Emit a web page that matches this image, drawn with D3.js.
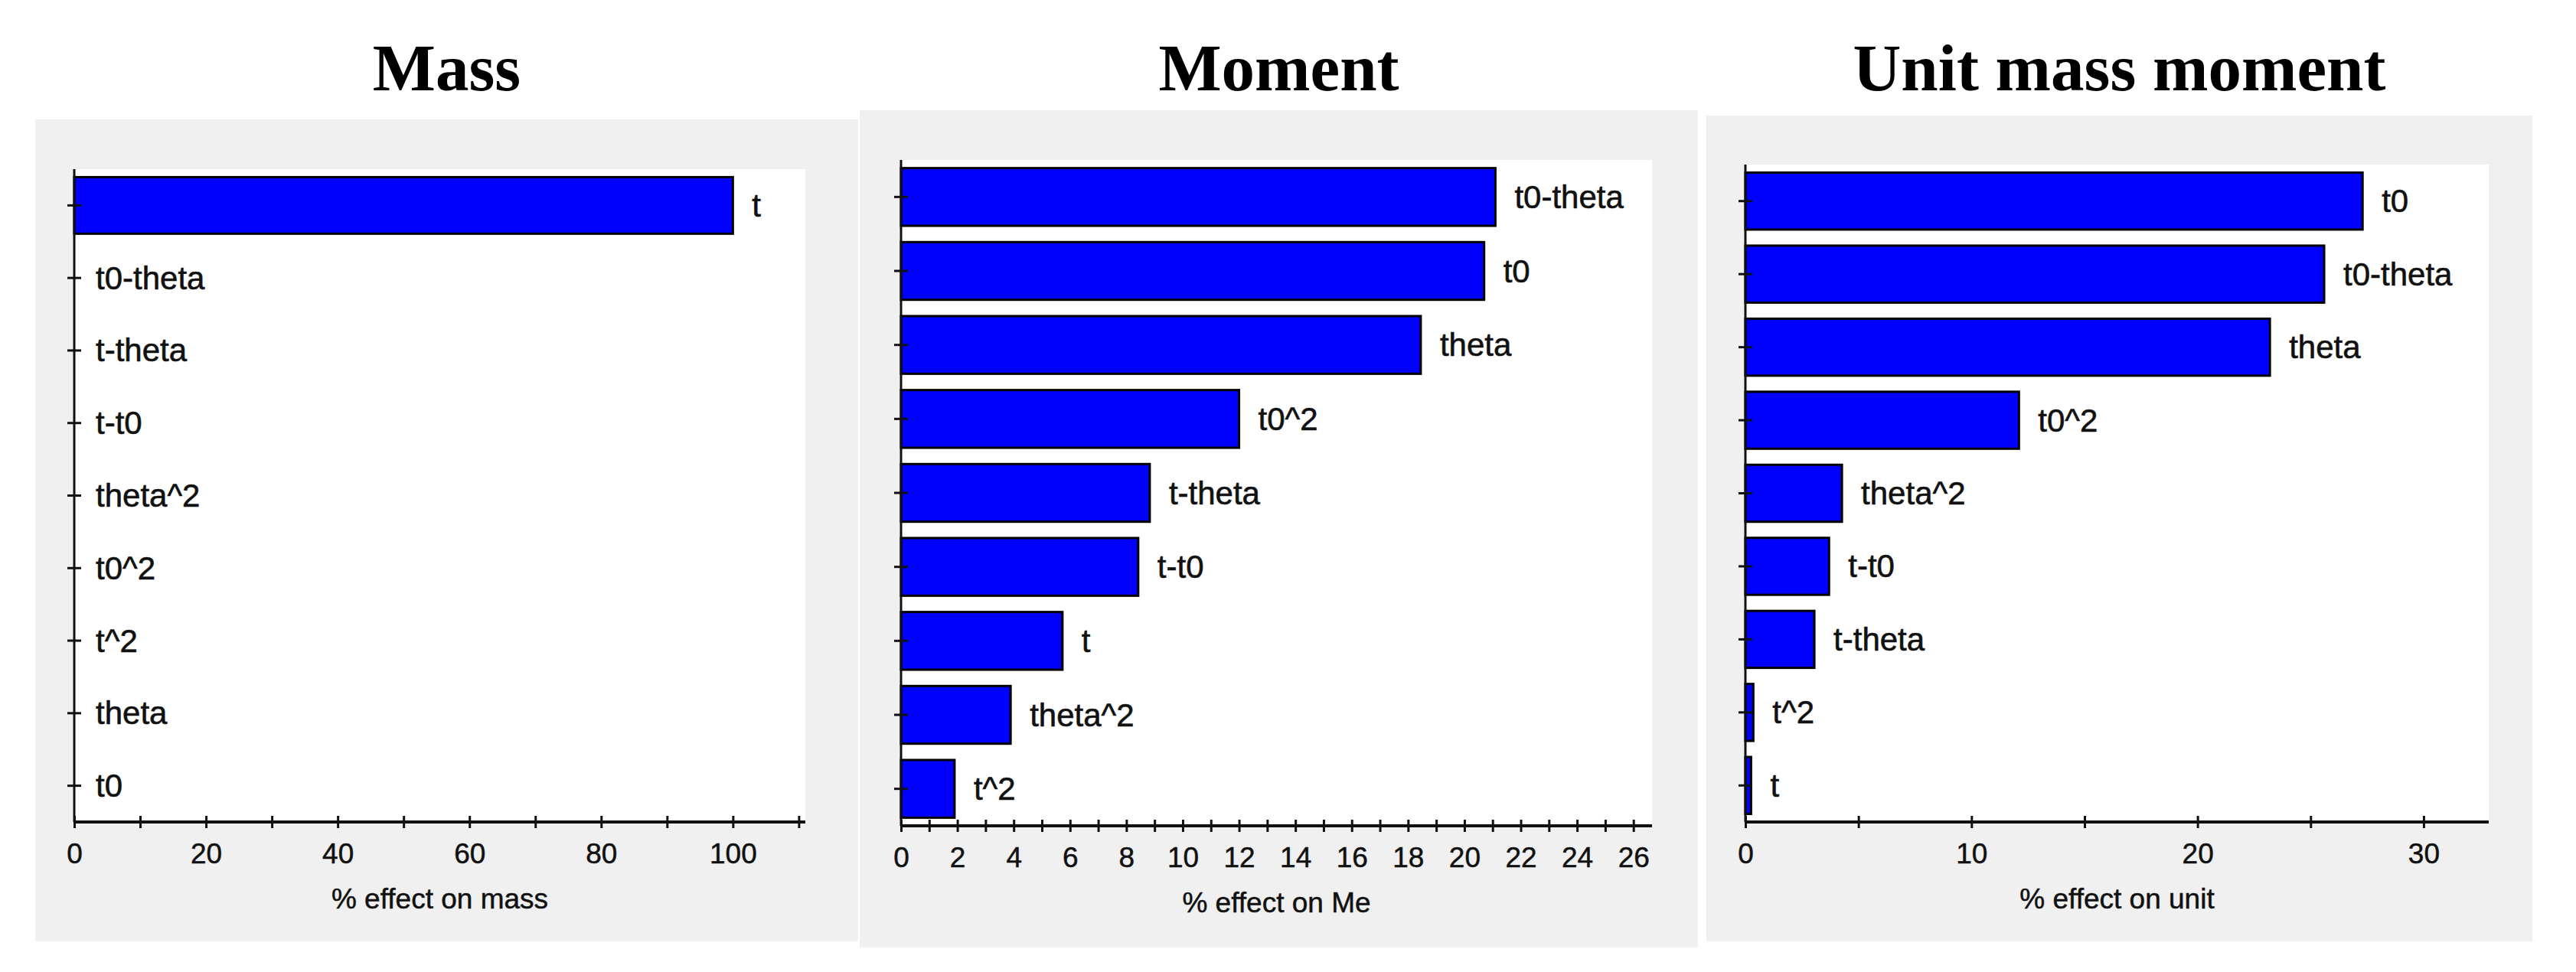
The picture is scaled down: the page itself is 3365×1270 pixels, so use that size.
<!DOCTYPE html>
<html lang="en">
  <head>
    <meta charset="UTF-8" />
    <title>Sensitivity bars - mass, moment, unit mass moment</title>
    <style>
      body {
        margin: 0;
        background: #fff;
      }
      svg {
        display: block;
      }
    </style>
  </head>
  <body>
    <svg id="chart"></svg>
    <script src="https://cdn.jsdelivr.net/npm/d3@7"></script>
    <script>
      // values, categories listed top to bottom
      const massCategories = ["t", "t0-theta", "t-theta", "t-t0", "theta^2", "t0^2", "t^2", "theta", "t0"];
      const massValues = [100, 0, 0, 0, 0, 0, 0, 0, 0];
      const massTicks = [0, 10, 20, 30, 40, 50, 60, 70, 80, 90, 100, 110];
      const massTickLabels = [0, 20, 40, 60, 80, 100];

      const momentCategories = ["t0-theta", "t0", "theta", "t0^2", "t-theta", "t-t0", "t", "theta^2", "t^2"];
      const momentValues = [21.1, 20.7, 18.45, 12.0, 8.83, 8.42, 5.73, 3.89, 1.9];
      const momentTicks = [0, 1, 2, 3, 4, 5, 6, 7, 8, 9, 10, 11, 12, 13, 14, 15, 16, 17, 18, 19, 20, 21, 22, 23, 24, 25, 26];
      const momentTickLabels = [0, 2, 4, 6, 8, 10, 12, 14, 16, 18, 20, 22, 24, 26];

      const unitCategories = ["t0", "t0-theta", "theta", "t0^2", "theta^2", "t-t0", "t-theta", "t^2", "t"];
      const unitValues = [27.3, 25.6, 23.2, 12.1, 4.27, 3.7, 3.05, 0.35, 0.25];
      const unitTicks = [0, 5, 10, 15, 20, 25, 30];
      const unitTickLabels = [0, 10, 20, 30];

      const titles = ["Mass", "Moment", "Unit mass moment"];
      const axisTitles = ["% effect on mass", "% effect on Me", "% effect on unit"];

      const width = 3365;
      const height = 1270;
      const sans = "'Liberation Sans', Arial, sans-serif";

      const svg = d3.select("#chart").attr("width", width).attr("height", height);

      const panels = [
        {
          cats: massCategories, vals: massValues, ticks: massTicks, labels: massTickLabels, xMax: 111,
          box: { x0: 46, y0: 156, x1: 1121, y1: 1230 },
          plot: { x0: 97, y0: 221, x1: 1052, y1: 1074 },
          titleY: 1187,
        },
        {
          cats: momentCategories, vals: momentValues, ticks: momentTicks, labels: momentTickLabels, xMax: 26.66,
          box: { x0: 1123, y0: 144, x1: 2218, y1: 1238 },
          plot: { x0: 1177, y0: 209, x1: 2158, y1: 1079 },
          titleY: 1192,
        },
        {
          cats: unitCategories, vals: unitValues, ticks: unitTicks, labels: unitTickLabels, xMax: 32.88,
          box: { x0: 2229, y0: 151, x1: 3308, y1: 1230 },
          plot: { x0: 2280, y0: 215, x1: 3251, y1: 1074 },
          titleY: 1187,
        },
      ];

      panels.forEach((p, i) => {
        const g = svg.append("g");
        const { box, plot } = p;

        g.append("rect")
          .attr("x", box.x0)
          .attr("y", box.y0)
          .attr("width", box.x1 - box.x0)
          .attr("height", box.y1 - box.y0)
          .attr("fill", "#f0f0f0");

        g.append("rect")
          .attr("x", plot.x0)
          .attr("y", plot.y0)
          .attr("width", plot.x1 - plot.x0)
          .attr("height", plot.y1 - plot.y0)
          .attr("fill", "#fff");

        g.append("text")
          .attr("x", (box.x0 + box.x1) / 2)
          .attr("y", 118)
          .attr("text-anchor", "middle")
          .attr("font-family", "'Liberation Serif', 'Times New Roman', serif")
          .attr("font-weight", "bold")
          .attr("font-size", 87)
          .text(titles[i]);

        const x = d3.scaleLinear().domain([0, p.xMax]).range([plot.x0, plot.x1]);
        const y = d3.scaleBand().domain(p.cats).range([plot.y0, plot.y1]).paddingInner(0.22).paddingOuter(0.11);
        const rows = p.cats.map((c, k) => ({ cat: c, val: p.vals[k] }));

        g.selectAll(".bar")
          .data(rows.filter((d) => d.val > 0))
          .enter()
          .append("rect")
          .attr("class", "bar")
          .attr("x", x(0))
          .attr("y", (d) => y(d.cat))
          .attr("width", (d) => x(d.val) - x(0))
          .attr("height", y.bandwidth())
          .attr("fill", "#0000ff")
          .attr("stroke", "#000")
          .attr("stroke-width", 3);

        g.selectAll(".lbl")
          .data(rows)
          .enter()
          .append("text")
          .attr("class", "lbl")
          .attr("x", (d) => x(d.val) + (d.val > 0 ? 25 : 28))
          .attr("y", (d) => y(d.cat) + y.bandwidth() / 2)
          .attr("dominant-baseline", "central")
          .attr("font-family", sans)
          .attr("font-size", 42)
          .attr("fill", "#111")
          .attr("stroke", "#111")
          .attr("stroke-width", 0.6)
          .text((d) => d.cat);

        // x axis: ticks cross the line, only some are labelled
        const xAxis = g.append("g")
          .attr("transform", `translate(0,${plot.y1})`)
          .call(
            d3.axisBottom(x)
              .tickValues(p.ticks)
              .tickSizeOuter(0)
              .tickFormat((d) => (p.labels.includes(d) ? d : ""))
          );
        xAxis.select(".domain").remove();
        xAxis.append("line")
          .attr("x1", plot.x0)
          .attr("x2", plot.x1)
          .attr("stroke", "#111")
          .attr("stroke-width", 4);
        xAxis.selectAll(".tick line").attr("y1", -8).attr("y2", 8).attr("stroke", "#111").attr("stroke-width", 3);
        xAxis.selectAll(".tick text")
          .attr("y", 28)
          .attr("font-family", sans)
          .attr("font-size", 37)
          .attr("fill", "#111")
          .attr("stroke", "#111")
          .attr("stroke-width", 0.5);

        // y axis
        const yAxis = g.append("g")
          .attr("transform", `translate(${plot.x0},0)`)
          .call(d3.axisLeft(y).tickSizeOuter(0).tickFormat(""));
        yAxis.select(".domain").remove();
        yAxis.append("line")
          .attr("y1", plot.y0)
          .attr("y2", plot.y1)
          .attr("stroke", "#111")
          .attr("stroke-width", 3);
        yAxis.selectAll(".tick line").attr("x1", -9).attr("x2", 9).attr("stroke", "#111").attr("stroke-width", 3);

        g.append("text")
          .attr("x", (plot.x0 + plot.x1) / 2)
          .attr("y", p.titleY)
          .attr("text-anchor", "middle")
          .attr("font-family", sans)
          .attr("font-size", 37)
          .attr("fill", "#111")
          .attr("stroke", "#111")
          .attr("stroke-width", 0.5)
          .text(axisTitles[i]);
      });
    </script>
  </body>
</html>
